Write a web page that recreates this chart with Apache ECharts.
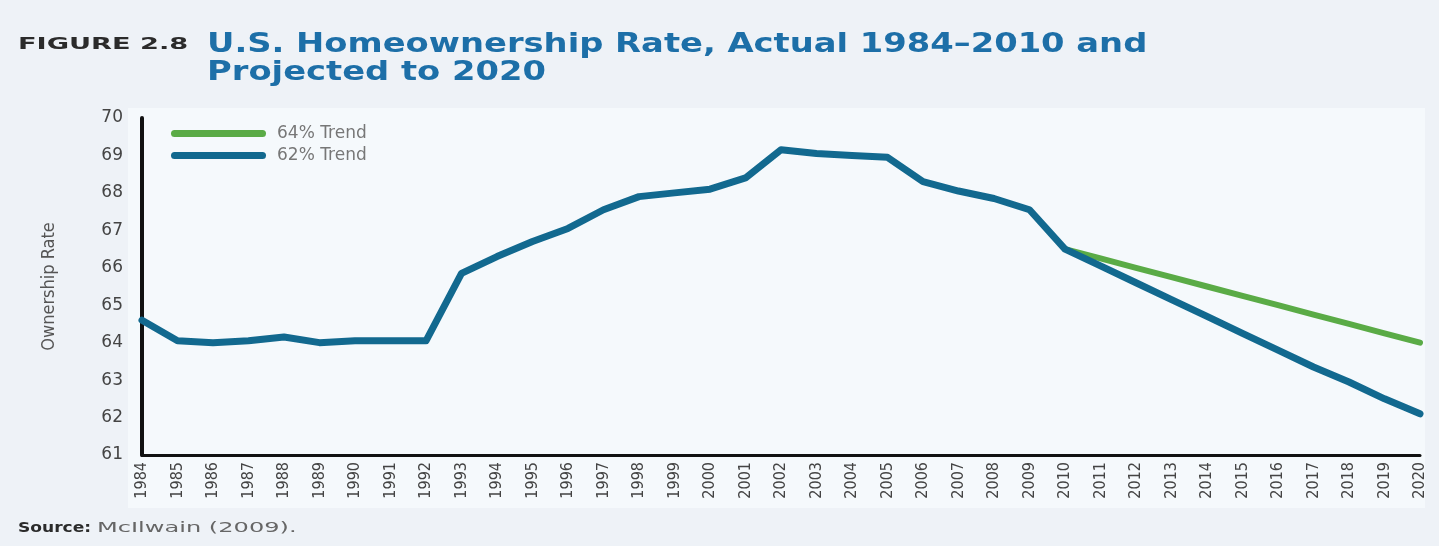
<!DOCTYPE html>
<html>
<head>
<meta charset="utf-8">
<script src="https://cdn.jsdelivr.net/npm/echarts@6/dist/echarts.min.js"></script>
<style>
  html, body { margin: 0; padding: 0; background: #eef2f7; }
  #chart { width: 1439px; height: 546px; }
</style>
</head>
<body>
<div id="chart"></div>
<script>
// Years on the category axis
const years = [
  '1984','1985','1986','1987','1988','1989','1990','1991','1992','1993',
  '1994','1995','1996','1997','1998','1999','2000','2001','2002','2003',
  '2004','2005','2006','2007','2008','2009','2010','2011','2012','2013',
  '2014','2015','2016','2017','2018','2019','2020'
];

// Actual homeownership rate, 1984–2010 (%)
const actual = [
  64.6, 64.05, 64.0, 64.05, 64.15, 64.0, 64.05, 64.05, 64.05, 65.85,
  66.3, 66.7, 67.05, 67.55, 67.9, 68.0, 68.1, 68.4, 69.15, 69.05,
  69.0, 68.95, 68.3, 68.05, 67.85, 67.55, 66.5
];

// Projections from 2010 through 2020 (%)
const trend62 = [66.5, 66.05, 65.6, 65.15, 64.7, 64.25, 63.8, 63.35, 62.95, 62.5, 62.1];
const trend64 = [66.5, 66.25, 66.0, 65.75, 65.5, 65.25, 65.0, 64.75, 64.5, 64.25, 64.0];

// Y axis range
const yMin = 61, yMax = 70, yStep = 1;

// Blue series: actual history followed by the 62% projection
const blueSeries = actual.slice(0, actual.length - 1).concat(trend62);
// Green series: only the projection years
const greenSeries = new Array(actual.length - 1).fill(null).concat(trend64);

const BLUE = '#12698f';
const GREEN = '#5aab46';
const capsule = 'path://M3.5,0 L91.5,0 A3.5,3.5 0 0 1 91.5,7 L3.5,7 A3.5,3.5 0 0 1 3.5,0 Z';

const chart = echarts.init(document.getElementById('chart'));
chart.setOption({
  backgroundColor: '#eef2f7',
  animation: false,
  graphic: [
    {
      // lighter panel behind the plot
      type: 'rect', z: -10, silent: true,
      shape: { x: 128, y: 108, width: 1297, height: 400 },
      style: { fill: '#f5f9fc' }
    },
    {
      type: 'text', x: 18, y: 37, scaleX: 1.7, silent: true,
      style: {
        text: 'FIGURE 2.8',
        font: 'bold 16px "DejaVu Sans"', fill: '#2b2b2b'
      }
    },
    {
      type: 'text', x: 207, y: 31, scaleX: 1.25, silent: true,
      style: {
        text: 'U.S. Homeownership Rate, Actual 1984–2010 and\nProjected to 2020',
        font: 'bold 27px "DejaVu Sans"', lineHeight: 28, fill: '#1d6fa8'
      }
    },
    {
      type: 'text', x: 18, y: 521, scaleX: 1.22, silent: true,
      style: { text: 'Source:', font: 'bold 14px "DejaVu Sans"', fill: '#2b2b2b' }
    },
    {
      type: 'text', x: 97, y: 521, scaleX: 1.72, silent: true,
      style: { text: 'McIlwain (2009).', font: '14px "DejaVu Sans"', fill: '#666' }
    }
  ],
  legend: {
    orient: 'vertical',
    left: 166, top: 120,
    itemWidth: 95, itemHeight: 7, itemGap: 5,
    data: [
      { name: '64% Trend', icon: capsule },
      { name: '62% Trend', icon: capsule }
    ],
    textStyle: { fontFamily: 'DejaVu Sans', fontSize: 17, color: '#777', padding: [0, 0, 0, 6] }
  },
  grid: { left: 142, right: 19, top: 118, bottom: 91, containLabel: false },
  xAxis: {
    type: 'category',
    data: years,
    boundaryGap: false,
    axisLine: { show: true, onZero: false, lineStyle: { color: '#111', width: 3 } },
    axisTick: { show: false },
    axisLabel: {
      rotate: 90, margin: 7, interval: 0,
      fontFamily: 'DejaVu Sans Condensed', fontSize: 16, color: '#444'
    },
    splitLine: { show: false }
  },
  yAxis: {
    type: 'value',
    min: yMin, max: yMax, interval: yStep,
    name: 'Ownership Rate',
    nameLocation: 'middle',
    nameGap: 84,
    nameRotate: 90,
    nameTextStyle: { fontFamily: 'DejaVu Sans Condensed', fontSize: 18, color: '#555' },
    axisLine: { show: true, lineStyle: { color: '#111', width: 4 } },
    axisTick: { show: false },
    axisLabel: { margin: 19, fontFamily: 'DejaVu Sans', fontSize: 17, color: '#444' },
    splitLine: { show: false }
  },
  series: [
    {
      name: '64% Trend', type: 'line', data: greenSeries,
      symbol: 'none', connectNulls: false,
      lineStyle: { color: GREEN, width: 6, cap: 'round', join: 'round' },
      itemStyle: { color: GREEN },
      z: 2
    },
    {
      name: '62% Trend', type: 'line', data: blueSeries,
      symbol: 'none',
      lineStyle: { color: BLUE, width: 7, cap: 'round', join: 'round' },
      itemStyle: { color: BLUE },
      z: 3
    }
  ]
});
</script>
</body>
</html>
